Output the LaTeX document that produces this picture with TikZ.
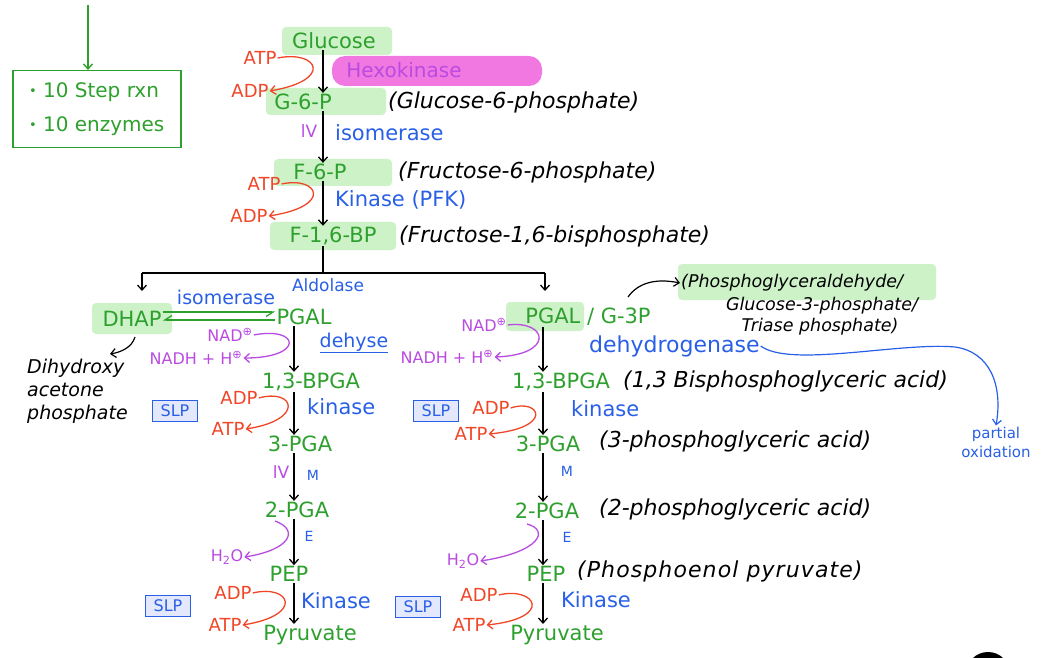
\documentclass[tikz,border=0pt]{standalone}
\usepackage{fontspec}
\setmainfont{DejaVu Sans}
\usetikzlibrary{arrows.meta,calc}
\definecolor{cgreen}{RGB}{45,160,45}
\definecolor{cred}{RGB}{240,70,40}
\definecolor{cblue}{RGB}{40,95,230}
\definecolor{cpurple}{RGB}{185,75,225}
\definecolor{hlgreen}{RGB}{205,242,200}
\definecolor{hlpink}{RGB}{242,120,225}
\definecolor{slpfill}{RGB}{228,232,252}
\tikzset{
  base/.style={inner sep=1pt},
  met/.style={base, text=cgreen, font=\fontsize{21}{21}\selectfont},
  cof/.style={base, text=cred, font=\fontsize{18}{18}\selectfont},
  enz/.style={base, text=cblue, font=\fontsize{21}{21}\selectfont},
  enzs/.style={base, text=cblue, font=\fontsize{14}{14}\selectfont},
  nad/.style={base, text=cpurple, font=\fontsize{16}{16}\selectfont},
  note/.style={base, text=black, anchor=west, font=\itshape\fontsize{22}{22}\selectfont},
  tip/.style={-{Straight Barb[length=5pt,width=9pt]}},
  rx/.style={draw=black, line width=1.3pt, tip},
  redc/.style={draw=cred, line width=1.3pt, tip},
  purc/.style={draw=cpurple, line width=1.3pt, tip},
  bluc/.style={draw=cblue, line width=1.2pt, tip},
  hl/.style={fill=hlgreen, rounded corners=4pt},
  slpbox/.style={draw=cblue, fill=slpfill, line width=1pt, text=cblue,
    font=\fontsize{16}{16}\selectfont, minimum width=45pt, minimum height=21pt, inner sep=1pt},
}
\newcommand{\dotmark}{{\fontsize{13}{13}\selectfont\raisebox{2pt}{•}}}
\begin{document}
\begin{tikzpicture}[x=1pt,y=-1pt]
\useasboundingbox (0,0) rectangle (1045,658);

% summary box
\node[draw=cgreen, line width=1.5pt, text=cgreen, align=left, anchor=north west,
  minimum width=168pt, minimum height=77pt, inner xsep=3pt,
  font=\fontsize{20}{34}\selectfont] (sumbox) at (12,70)
  {\dotmark\ 10 Step rxn\\ \dotmark\ 10 enzymes};
\coordinate (sumtop) at (88,5);
\draw[draw=cgreen, line width=1.4pt, tip] (sumtop) -- (sumtop |- sumbox.north);

% highlights
\fill[hl] (282,27) rectangle (392,55);
\fill[hlpink, rounded corners=13pt] (332,56) rectangle (542,86);
\fill[hl] (266,88) rectangle (386,115);
\fill[hl] (274,159) rectangle (392,186);
\fill[hl] (270,222) rectangle (396,250);
\fill[hl] (92,303) rectangle (172,334);
\fill[hl] (506,302) rectangle (584,331);
\fill[hl] (678,264) rectangle (936,300);

% upper pathway
\node[met] (glc) at (334,41) {Glucose};
\node[base, text=cpurple, font=\fontsize{20}{20}\selectfont] (hex) at (404,70) {Hexokinase};
\node[cof] (atp1) at (260,58) {ATP};
\node[cof] (adp1) at (250,91) {ADP};
\node[met] (g6p) at (303,102) {G-6-P};
\node[note] (n1) at (387,102) {(Glucose-6-phosphate)};
\node[base, text=cpurple, font=\fontsize{17}{17}\selectfont] (iv1) at (309,131) {lV};
\node[enz, anchor=west] (iso1) at (334,133) {isomerase};
\node[met] (f6p) at (320,172) {F-6-P};
\node[note] (n2) at (397,172) {(Fructose-6-phosphate)};
\node[cof] (atp2) at (264,184) {ATP};
\node[cof] (adp2) at (249,216) {ADP};
\node[enz, anchor=west] (pfk) at (334,200) {Kinase (PFK)};
\node[met] (f16) at (333,236) {F-1,6-BP};
\node[note] (n3) at (398,236) {(Fructose-1,6-bisphosphate)};

\coordinate (ax) at (323,0);
\draw[rx] (glc.south -| ax) -- (g6p.north -| ax);
\draw[rx] (g6p.south -| ax) -- (f6p.north -| ax);
\draw[rx] (f6p.south -| ax) -- (f16.north -| ax);
\draw[redc] (atp1.east) .. controls (318,50) and (334,80) .. (adp1.east);
\draw[redc] (atp2.east) .. controls (318,176) and (334,206) .. (adp2.east);

% aldolase split
\coordinate (split) at (323,273);
\coordinate (lsplit) at (142,273);
\coordinate (rsplit) at (545,273);
\coordinate (ldown) at (142,291);
\coordinate (rdown) at (545,291);
\draw[line width=1.3pt] (f16.south -| ax) -- (split);
\draw[line width=1.3pt] (lsplit) -- (rsplit);
\draw[rx] (lsplit) -- (ldown);
\draw[rx] (rsplit) -- (rdown);
\node[enzs, font=\fontsize{17}{17}\selectfont] (ald) at (328,285) {Aldolase};

% left branch
\node[met] (dhap) at (132,319) {DHAP};
\node[met] (pgal1) at (304,317) {PGAL};
\node[enz, font=\fontsize{19}{19}\selectfont] (iso2) at (226,297) {isomerase};
\draw[draw=cgreen, line width=1.3pt, -{Straight Barb[harpoon,swap,length=7pt,width=9pt]}] (dhap.east |- 0,312) -- (pgal1.west |- 0,312);
\draw[draw=cgreen, line width=1.3pt, -{Straight Barb[harpoon,swap,length=7pt,width=9pt]}] (pgal1.west |- 0,320) -- (dhap.east |- 0,320);
\node[base, align=left, anchor=north west, font=\itshape\fontsize{19}{23}\selectfont] (dha) at (26,358) {Dihydroxy\\acetone\\phosphate};
\draw[line width=1.2pt, tip] (135,337) .. controls (132,347) and (122,352) .. (110,354);

\node[nad] (nad1) at (230,335) {NAD\textsuperscript{⊕}};
\node[nad] (nadh1) at (196,358) {NADH + H\textsuperscript{⊕}};
\node[enz, font=\fontsize{19}{19}\selectfont] (dhs) at (354,343) {\underline{dehyse}};
\node[met] (bpga1) at (311,382) {1,3-BPGA};
\node[cof] (adp3) at (239,398) {ADP};
\node[cof] (atp3) at (228,429) {ATP};
\node[enz, anchor=west] (kin3) at (306,407) {kinase};
\node[slpbox] (slp1) at (175,411) {SLP};
\node[met] (pga3a) at (300,444) {3-PGA};
\node[base, text=cpurple, font=\fontsize{17}{17}\selectfont] (iv2) at (281,472) {lV};
\node[enzs] (mut1) at (313,475) {M};
\node[met] (pga2a) at (297,510) {2-PGA};
\node[enzs] (eno1) at (309,536) {E};
\node[nad] (h2o1) at (227,557) {H\textsubscript{2}O};
\node[met] (pep1) at (289,574) {PEP};
\node[cof] (adp4) at (233,593) {ADP};
\node[cof] (atp4) at (225,625) {ATP};
\node[enz, anchor=west] (kin4) at (300,601) {Kinase};
\node[slpbox] (slp2) at (168,606) {SLP};
\node[met] (pyr1) at (310,635) {Pyruvate};

\coordinate (lx) at (294,0);
\draw[rx] (pgal1.south -| lx) -- (bpga1.north -| lx);
\draw[rx] (bpga1.south -| lx) -- (pga3a.north -| lx);
\draw[rx] (pga3a.south -| lx) -- (pga2a.north -| lx);
\draw[rx] (pga2a.south -| lx) -- (pep1.north -| lx);
\draw[rx] (pep1.south -| lx) -- (pyr1.north -| lx);
\draw[purc] (nad1.east) .. controls (300,326) and (305,358) .. (nadh1.east);
\draw[redc] (adp3.east) .. controls (295,388) and (305,420) .. (atp3.east);
\draw[purc] (275,521) .. controls (300,530) and (290,550) .. (h2o1.east);
\draw[redc] (adp4.east) .. controls (290,584) and (305,615) .. (atp4.east);

% right branch
\node[met] (pgal2) at (588,317) {PGAL / G-3P};
\node[nad] (nad2) at (484,325) {NAD\textsuperscript{⊕}};
\node[nad] (nadh2) at (447,357) {NADH + H\textsuperscript{⊕}};
\node[enz, anchor=west, font=\fontsize{22}{22}\selectfont] (dhg) at (588,346) {dehydrogenase};
\node[met] (bpga2) at (561,382) {1,3-BPGA};
\node[note] (n4) at (622,381) {(1,3 Bisphosphoglyceric acid)};
\node[slpbox] (slp3) at (436,411) {SLP};
\node[cof] (adp5) at (491,408) {ADP};
\node[cof] (atp5) at (471,434) {ATP};
\node[enz, anchor=west] (kin5) at (570,409) {kinase};
\node[met] (pga3b) at (548,444) {3-PGA};
\node[note] (n5) at (598,441) {(3-phosphoglyceric acid)};
\node[enzs] (mut2) at (567,471) {M};
\node[met] (pga2b) at (547,511) {2-PGA};
\node[note] (n6) at (598,509) {(2-phosphoglyceric acid)};
\node[enzs] (eno2) at (567,537) {E};
\node[nad] (h2o2) at (463,561) {H\textsubscript{2}O};
\node[met] (pep2) at (546,574) {PEP};
\node[note, font=\itshape\fontsize{22}{22}\selectfont\addfontfeatures{LetterSpace=5}] (n7) at (576,571) {(Phosphoenol pyruvate)};
\node[slpbox] (slp4) at (418,607) {SLP};
\node[cof] (adp6) at (479,595) {ADP};
\node[cof] (atp6) at (469,625) {ATP};
\node[enz, anchor=west] (kin6) at (560,600) {Kinase};
\node[met] (pyr2) at (557,635) {Pyruvate};

\coordinate (rx0) at (543,0);
\draw[rx] (pgal2.south -| rx0) -- (bpga2.north -| rx0);
\draw[rx] (bpga2.south -| rx0) -- (pga3b.north -| rx0);
\draw[rx] (pga3b.south -| rx0) -- (pga2b.north -| rx0);
\draw[rx] (pga2b.south -| rx0) -- (pep2.north -| rx0);
\draw[rx] (pep2.south -| rx0) -- (pyr2.north -| rx0);
\draw[purc] (nad2.east) .. controls (548,320) and (555,355) .. (nadh2.east);
\draw[redc] (adp5.east) .. controls (540,398) and (555,428) .. (atp5.east);
\draw[purc] (527,524) .. controls (550,530) and (540,552) .. (h2o2.east);
\draw[redc] (adp6.east) .. controls (535,586) and (555,618) .. (atp6.east);

% synonyms of PGAL
\node[base, anchor=west, font=\itshape\fontsize{17.5}{17.5}\selectfont] (syn1) at (680,283) {(Phosphoglyceraldehyde/};
\node[base, font=\itshape\fontsize{17.5}{17.5}\selectfont] (syn2) at (822,306) {Glucose-3-phosphate/};
\node[base, font=\itshape\fontsize{17.5}{17.5}\selectfont] (syn3) at (820,327) {Triase phosphate)};
\coordinate (synfrom) at (628,297);
\draw[line width=1.2pt, tip] (synfrom) .. controls (638,283) and (655,278) .. (syn1.west);

% partial oxidation
\node[base, text=cblue, align=center, font=\fontsize{15}{19}\selectfont] (pox) at (996,442) {partial\\oxidation};
\draw[bluc] (dhg.east) .. controls (790,368) and (900,342) .. (955,347)
  .. controls (990,352) and (1003,385) .. (pox.north);

% edge mark
\fill (988,674) circle (22pt);
\end{tikzpicture}
\end{document}
